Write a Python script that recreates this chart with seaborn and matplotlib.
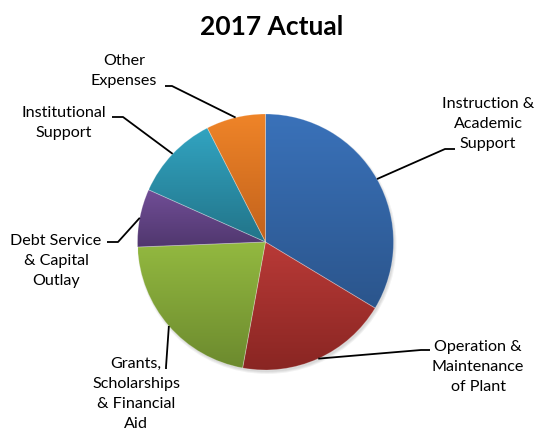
import numpy as np
import matplotlib
matplotlib.use("Agg")
import matplotlib.pyplot as plt
import seaborn as sns
from matplotlib.colors import LinearSegmentedColormap
from matplotlib.patches import Circle

# --- data (share of 2017 actual spending) ---
categories = [
    "Instruction &\nAcademic\nSupport",
    "Operation &\nMaintenance\nof Plant",
    "Grants,\nScholarships\n& Financial\nAid",
    "Debt Service\n& Capital\nOutlay",
    "Institutional\nSupport",
    "Other\nExpenses",
]
shares = [33.6, 19.2, 21.5, 7.3, 10.8, 7.5]

top_colors = ["#3A72BA", "#B93A37", "#93B940", "#714E97", "#32A4C1", "#EF8428"]
bottom_colors = ["#2B558C", "#882522", "#6C8A2E", "#50376E", "#227489", "#C2621C"]

# label layout in pixel coords: text centre, leader elbow, leader end
W, H = 536, 435
text_pos = [(488, 124), (478, 367), (136, 394), (56, 261), (64, 123), (124, 71)]
elbows = [(445, 150), (421, 351), (166, 368), (118, 243), (123, 118), (172, 87)]
ends = [(455, 150), (430, 351), (166, 370), (107, 243), (112, 118), (165, 87)]


def flip(p):
    return p[0], H - p[1]


sns.set_theme(style="white")
plt.rcParams["font.family"] = ["Lato", "DejaVu Sans"]

fig = plt.figure(figsize=(W / 100, H / 100), dpi=100)
ax = fig.add_axes([0, 0, 1, 1])

cx, cy, r = 265.5, H - 243, 128

# soft shadow
for k, a in enumerate([0.05, 0.05, 0.05]):
    ax.add_patch(Circle((cx + 1.5, cy - 2.5), r + 1.5 - k, color="black", alpha=a, lw=0, zorder=0))

wedges, _ = ax.pie(
    shares,
    startangle=90,
    counterclock=False,
    center=(cx, cy),
    radius=r,
    colors=top_colors,
    wedgeprops=dict(edgecolor=(1, 1, 1, 0.25), linewidth=0.6),
)

# vertical gradient fill per slice (like the Excel look)
grad = np.linspace(0, 1, 256).reshape(-1, 1)
for w, c0, c1 in zip(wedges, top_colors, bottom_colors):
    verts = w.get_path().vertices
    x0, x1 = verts[:, 0].min(), verts[:, 0].max()
    y0, y1 = verts[:, 1].min(), verts[:, 1].max()
    cmap = LinearSegmentedColormap.from_list("g", [c1, c0])
    im = ax.imshow(grad, cmap=cmap, extent=(x0, x1, y0, y1), origin="lower",
                   aspect="auto", zorder=1)
    im.set_clip_path(w)
    w.set_facecolor("none")
    w.set_zorder(2)

# leader lines + labels
for w, lab, tp, el, en in zip(wedges, categories, text_pos, elbows, ends):
    mid = np.deg2rad((w.theta1 + w.theta2) / 2)
    start = (cx + r * np.cos(mid), cy + r * np.sin(mid))
    e1, e2 = flip(el), flip(en)
    ax.plot([start[0], e1[0], e2[0]], [start[1], e1[1], e2[1]], color="black", lw=1.3,
            solid_capstyle="butt", zorder=3)
    tx, ty = flip(tp)
    ax.text(tx, ty, lab, ha="center", va="center", fontsize=11.6, linespacing=1.55,
            color="black", zorder=4)

ax.text(272, H - 27, "2017 Actual", ha="center", va="center", fontsize=19,
        fontweight="bold", color="black")

ax.set_xlim(0, W)
ax.set_ylim(0, H)
ax.set_aspect("equal")
ax.axis("off")

fig.savefig("out.png", dpi=100, facecolor="white")
